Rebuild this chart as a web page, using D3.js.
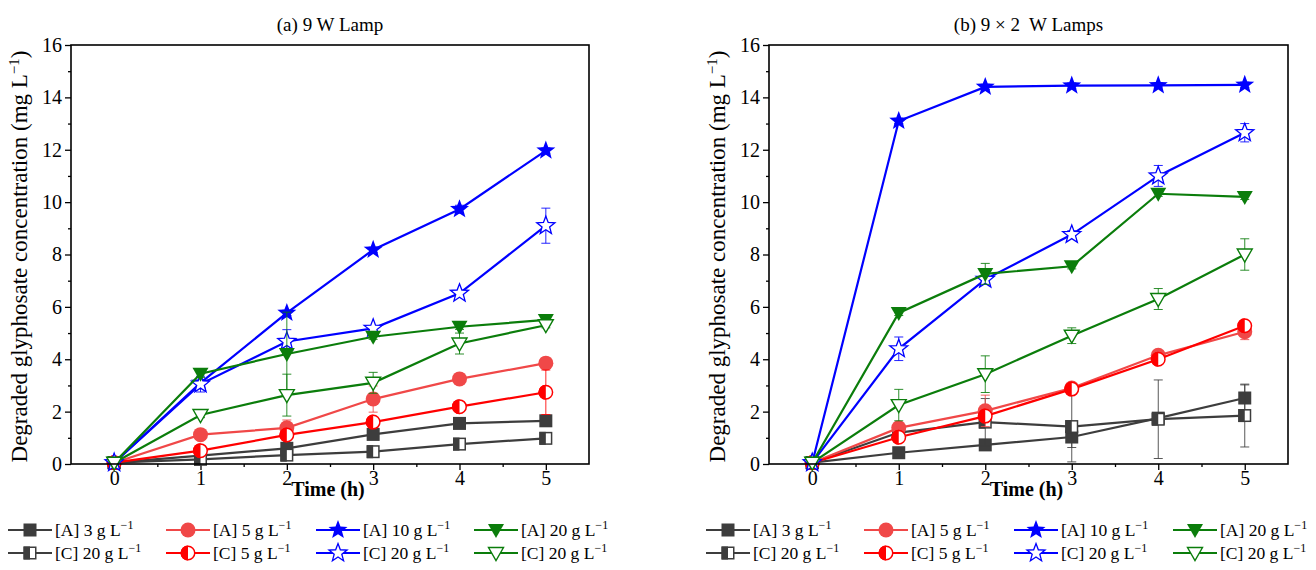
<!DOCTYPE html>
<html><head><meta charset="utf-8">
<script src="https://cdn.jsdelivr.net/npm/d3@7"></script>
<style>
body{margin:0;background:#fff}
text{font-family:"Liberation Serif","Times New Roman",serif;fill:#000}
</style></head>
<body><svg id="c" width="1316" height="570"></svg>
<script>
// ---------------- DATA ----------------
const timeH = [0, 1, 2, 3, 4, 5];
const xTicks = [0, 1, 2, 3, 4, 5];
const yTicks = [0, 2, 4, 6, 8, 10, 12, 14, 16];
const panelTitles = ["(a) 9 W Lamp", "(b) 9 \u00d7 2  W Lamps"];
const seriesLabels = ["[A] 3 g L", "[A] 5 g L", "[A] 10 g L", "[A] 20 g L",
                      "[C] 20 g L", "[C] 5 g L", "[C] 20 g L", "[C] 20 g L"];

// Panel (a) 9 W Lamp
const a_A3   = [0.05, 0.32, 0.60, 1.13, 1.55, 1.65];
const a_A3e  = [0, 0.05, 0.08, 0.10, 0.10, 0.10];
const a_C20k = [0.05, 0.18, 0.34, 0.47, 0.76, 0.98];
const a_C20ke= [0, 0.03, 0.05, 0.08, 0.08, 0.10];
const a_A5   = [0.05, 1.12, 1.38, 2.48, 3.25, 3.85];
const a_A5e  = [0, 0.10, 0.30, 0.50, 0.10, 0.20];
const a_C5   = [0.05, 0.51, 1.11, 1.60, 2.19, 2.74];
const a_C5e  = [0, 0.10, 0.10, 0.10, 0.10, 0.85];
const a_A10  = [0.05, 3.10, 5.77, 8.18, 9.73, 11.97];
const a_A10e = [0, 0.10, 0.10, 0.10, 0.15, 0.10];
const a_C20b = [0.05, 3.05, 4.68, 5.18, 6.52, 9.10];
const a_C20be= [0, 0.30, 0.45, 0.10, 0.10, 0.67];
const a_A20  = [0.05, 3.45, 4.20, 4.86, 5.24, 5.50];
const a_A20e = [0, 0.15, 1.60, 0.10, 0.10, 0.10];
const a_C20g = [0.05, 1.87, 2.63, 3.10, 4.60, 5.30];
const a_C20ge= [0, 0.10, 0.80, 0.40, 0.40, 0.10];

// Panel (b) 9 x 2 W Lamps
const b_A3   = [0.05, 0.43, 0.73, 1.03, 1.75, 2.52];
const b_A3e  = [0, 0.10, 0.15, 0.40, 0.20, 0.50];
const b_C20k = [0.05, 1.20, 1.60, 1.43, 1.71, 1.85];
const b_C20ke= [0, 0.10, 0.90, 1.35, 1.50, 1.20];
const b_A5   = [0.05, 1.38, 2.03, 2.90, 4.15, 5.05];
const b_A5e  = [0, 0.10, 0.60, 0.10, 0.10, 0.30];
const b_C5   = [0.05, 1.02, 1.83, 2.86, 4.00, 5.28];
const b_C5e  = [0, 0.10, 0.15, 0.10, 0.10, 0.10];
const b_A10  = [0.05, 13.10, 14.40, 14.45, 14.46, 14.48];
const b_A10e = [0, 0.10, 0.10, 0.10, 0.10, 0.10];
const b_C20b = [0.05, 4.40, 7.05, 8.76, 11.00, 12.65];
const b_C20be= [0, 0.45, 0.15, 0.15, 0.40, 0.35];
const b_A20  = [0.05, 5.77, 7.26, 7.55, 10.32, 10.20];
const b_A20e = [0, 0.10, 0.40, 0.10, 0.10, 0.10];
const b_C20g = [0.05, 2.25, 3.43, 4.90, 6.30, 8.00];
const b_C20ge= [0, 0.60, 0.70, 0.30, 0.40, 0.60];

// ---------------- STYLE ----------------
const GRAY = "#3d3d3d", LRED = "#f04848", RED = "#ff0000", BLUE = "#0000ff", GREEN = "#0b7d0b";
const styles = [
  {color: GRAY,  marker: "square"},
  {color: LRED,  marker: "circle"},
  {color: BLUE,  marker: "star"},
  {color: GREEN, marker: "tri"},
  {color: GRAY,  marker: "squareHalf"},
  {color: RED,   marker: "circleHalf"},
  {color: BLUE,  marker: "starOpen"},
  {color: GREEN, marker: "triOpen"}
];
const drawOrder = [0, 4, 1, 5, 2, 6, 3, 7];

const panels = [
  {x0: 71, x1: 589, title: panelTitles[0],
   vals: [a_A3, a_A5, a_A10, a_A20, a_C20k, a_C5, a_C20b, a_C20g],
   errs: [a_A3e, a_A5e, a_A10e, a_A20e, a_C20ke, a_C5e, a_C20be, a_C20ge]},
  {x0: 769, x1: 1288, title: panelTitles[1],
   vals: [b_A3, b_A5, b_A10, b_A20, b_C20k, b_C5, b_C20b, b_C20g],
   errs: [b_A3e, b_A5e, b_A10e, b_A20e, b_C20ke, b_C5e, b_C20be, b_C20ge]}
];
const Y0 = 45, Y1 = 464;

const svg = d3.select("#c");

function starPath(R, r) {
  const pts = [];
  for (let i = 0; i < 10; i++) {
    const a = -Math.PI / 2 + i * Math.PI / 5;
    const rr = i % 2 === 0 ? R : r;
    pts.push([rr * Math.cos(a), rr * Math.sin(a)]);
  }
  return "M" + pts.map(p => p[0].toFixed(2) + "," + p[1].toFixed(2)).join("L") + "Z";
}

function drawMarker(g, type, color, cx, cy) {
  const m = g.append("g").attr("transform", `translate(${cx},${cy})`);
  const s = 6.5, r = 7.5;
  switch (type) {
    case "square":
      m.append("rect").attr("x", -s).attr("y", -s).attr("width", 2*s).attr("height", 2*s).attr("fill", color);
      break;
    case "squareHalf":
      m.append("rect").attr("x", -s+0.75).attr("y", -s+0.75).attr("width", 2*s-1.5).attr("height", 2*s-1.5)
        .attr("fill", "#fff").attr("stroke", color).attr("stroke-width", 1.5);
      m.append("rect").attr("x", -s).attr("y", -s).attr("width", s).attr("height", 2*s).attr("fill", color);
      break;
    case "circle":
      m.append("circle").attr("r", r).attr("fill", color);
      break;
    case "circleHalf":
      m.append("circle").attr("r", r-0.75).attr("fill", "#fff").attr("stroke", color).attr("stroke-width", 1.5);
      m.append("path").attr("d", `M0,${-r}A${r},${r} 0 0 0 0,${r}Z`).attr("fill", color);
      break;
    case "star":
      m.append("path").attr("d", starPath(10, 4.2)).attr("fill", color);
      break;
    case "starOpen":
      m.append("path").attr("d", starPath(9.5, 4)).attr("fill", "#fff").attr("stroke", color).attr("stroke-width", 1.3);
      break;
    case "tri":
      m.append("path").attr("d", "M-8,-6L8,-6L0,8Z").attr("fill", color);
      break;
    case "triOpen":
      m.append("path").attr("d", "M-7.5,-5.5L7.5,-5.5L0,7.5Z").attr("fill", "#fff").attr("stroke", color).attr("stroke-width", 1.4);
      break;
  }
}

panels.forEach((p, pi) => {
  const x = d3.scaleLinear().domain([-0.5, 5.5]).range([p.x0, p.x1]);
  const y = d3.scaleLinear().domain([0, 16]).range([Y1, Y0]);
  const g = svg.append("g");

  const yMajor = g.append("g").attr("transform", `translate(${p.x0},0)`)
    .call(d3.axisLeft(y).tickValues(yTicks).tickSize(6).tickPadding(3).tickFormat(d3.format("d")));
  const yMinor = g.append("g").attr("transform", `translate(${p.x0},0)`)
    .call(d3.axisLeft(y).tickValues(d3.range(1, 16, 2)).tickSize(3).tickFormat(""));
  const xMajor = g.append("g").attr("transform", `translate(0,${Y1})`)
    .call(d3.axisBottom(x).tickValues(xTicks).tickSize(6).tickPadding(1).tickFormat(d3.format("d")));
  const xMinor = g.append("g").attr("transform", `translate(0,${Y1})`)
    .call(d3.axisBottom(x).tickValues([0.5, 1.5, 2.5, 3.5, 4.5]).tickSize(3).tickFormat(""));
  [yMajor, yMinor, xMajor, xMinor].forEach(a => {
    a.select(".domain").remove();
    a.selectAll("line").attr("stroke", "#000").attr("stroke-width", 1.3);
    a.selectAll("text").style("font-family", "'Liberation Serif', serif").style("font-size", "20px").attr("fill", "#000");
  });

  drawOrder.forEach(si => {
    const st = styles[si];
    const vals = p.vals[si], errs = p.errs[si];
    const pts = timeH.map((t, i) => ({t, v: vals[i], e: errs[i]}));
    const sg = g.append("g");
    pts.filter(d => d.e > 0).forEach(d => {
      const cx = x(d.t);
      sg.append("line").attr("x1", cx).attr("x2", cx).attr("y1", y(d.v - d.e)).attr("y2", y(d.v + d.e))
        .attr("stroke", st.color).attr("stroke-width", 1).attr("opacity", 0.85);
      [d.v - d.e, d.v + d.e].forEach(v => {
        sg.append("line").attr("x1", cx - 4.5).attr("x2", cx + 4.5).attr("y1", y(v)).attr("y2", y(v))
          .attr("stroke", st.color).attr("stroke-width", 1).attr("opacity", 0.85);
      });
    });
    sg.append("path").datum(pts)
      .attr("d", d3.line().x(d => x(d.t)).y(d => y(d.v)))
      .attr("fill", "none").attr("stroke", st.color).attr("stroke-width", 2.2);
    pts.forEach(d => drawMarker(sg, st.marker, st.color, x(d.t), y(d.v)));
  });

  g.append("rect").attr("x", p.x0).attr("y", Y0).attr("width", p.x1 - p.x0).attr("height", Y1 - Y0)
    .attr("fill", "none").attr("stroke", "#000").attr("stroke-width", 1.6);

  const cxm = (p.x0 + p.x1) / 2;
  g.append("text").attr("x", cxm).attr("y", 31).attr("text-anchor", "middle")
    .style("font-size", "19px").style("white-space", "pre").text(p.title);
  g.append("text").attr("x", cxm - 2).attr("y", 496).attr("text-anchor", "middle")
    .style("font-size", "20px").style("font-weight", "bold").text("Time (h)");
  const yl = g.append("text").attr("transform", `translate(${p.x0 - 44},${(Y0 + Y1) / 2 + 2}) rotate(-90)`)
    .attr("text-anchor", "middle").style("font-size", "23px");
  yl.append("tspan").text("Degraded glyphosate concentration (mg L");
  yl.append("tspan").attr("dy", -8).style("font-size", "15px").text("\u22121");
  yl.append("tspan").attr("dy", 8).text(")");

  const colX = pi === 0 ? [8, 166, 316, 474] : [706, 864, 1014, 1173];
  const rowY = [530, 553];
  seriesLabels.forEach((lab, si) => {
    const st = styles[si];
    const lx = colX[si % 4], ly = rowY[Math.floor(si / 4)];
    const lg = g.append("g");
    lg.append("line").attr("x1", lx).attr("x2", lx + 44).attr("y1", ly).attr("y2", ly)
      .attr("stroke", st.color).attr("stroke-width", 2.2);
    drawMarker(lg, st.marker, st.color, lx + 22, ly);
    const t = lg.append("text").attr("x", lx + 47).attr("y", ly + 6).style("font-size", "17.5px");
    t.append("tspan").text(lab);
    t.append("tspan").attr("dy", -7).style("font-size", "12px").text("\u22121");
  });
});
</script></body></html>
